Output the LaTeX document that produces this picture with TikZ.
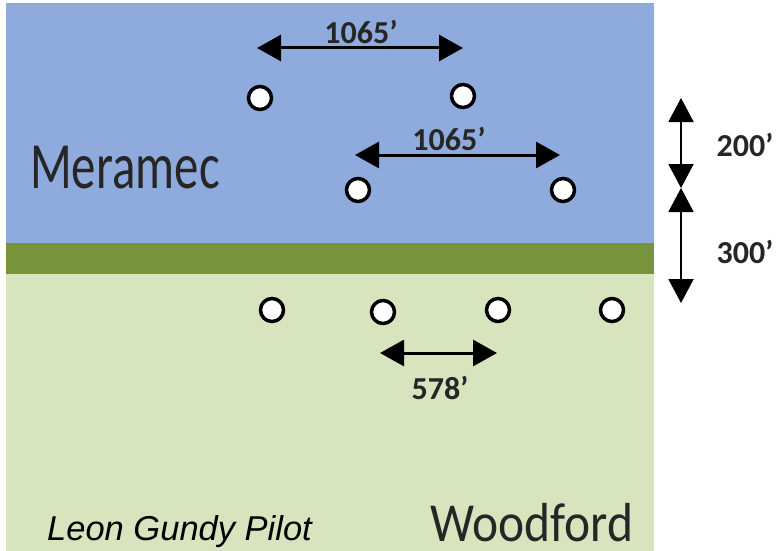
\documentclass[tikz,border=0pt]{standalone}
\usepackage{fontspec}
\setmainfont{Carlito}
\newfontfamily\pilotfont{Liberation Sans}
\usetikzlibrary{arrows.meta}
\definecolor{meramecblue}{HTML}{8FAADC}
\definecolor{shalegreen}{HTML}{77933C}
\definecolor{woodfordgreen}{HTML}{D7E4BD}
\tikzset{
	well/.style={circle, draw=black, fill=white, line width=3.5pt, minimum size=23pt, inner sep=0pt},
	spacing/.style={{Triangle[length=24pt,width=26pt]}-{Triangle[length=24pt,width=26pt]}, line width=3pt},
	thickness/.style={{Triangle[length=24pt,width=25pt]}-{Triangle[length=24pt,width=25pt]}, line width=2pt},
	dimlabel/.style={inner sep=0pt, text=black!85, font=\bfseries\fontsize{32}{34}\selectfont},
	zonelabel/.style={inner sep=0pt, anchor=base west, transform shape}
}

\begin{document}
\begin{tikzpicture}[x=1pt, y=-1pt]
			%%%%% START %%%%%
			
			\useasboundingbox (0, 0) rectangle (776, 551);
			
			\fill[meramecblue] (6, 3) rectangle (654, 243);
			\fill[shalegreen] (6, 243) rectangle (654, 274);
			\fill[woodfordgreen] (6, 274) rectangle (654, 551);
			
			% upper wells
			\node[well] (w1) at (260, 98) {};
			\node[well] (w2) at (463, 96) {};
			\node[well] (w3) at (358, 190) {};
			\node[well] (w4) at (563, 190) {};
			
			% lower wells
			\node[well] (w5) at (272, 310) {};
			\node[well] (w6) at (383, 312) {};
			\node[well] (w7) at (498, 310) {};
			\node[well] (w8) at (612, 310) {};
			
			\coordinate (a1l) at (257, 48);
			\coordinate (a1r) at (463, 48);
			\coordinate (a2l) at (355, 155);
			\coordinate (a2r) at (560, 155);
			\coordinate (a3l) at (380, 353);
			\coordinate (a3r) at (497, 353);
			
			\draw[spacing] (a1l) -- (a1r);
			\draw[spacing] (a2l) -- (a2r);
			\draw[spacing] (a3l) -- (a3r);
			
			\node[dimlabel] (d1) at (361, 32) {1065’};
			\node[dimlabel] (d2) at (449, 139) {1065’};
			\node[dimlabel] (d3) at (440, 388) {578’};
			
			\coordinate (vtop) at (681, 98);
			\coordinate (vmid) at (681, 188);
			\coordinate (vbot) at (681, 303);
			
			\draw[thickness] (vtop) -- (vmid);
			\draw[thickness] (vmid) -- (vbot);
			
			\node[dimlabel] (t1) at (745, 145) {200’};
			\node[dimlabel] (t2) at (745, 252) {300’};
			
			\node[zonelabel, xscale=0.74, text=black!85, font=\fontsize{66}{70}\selectfont] (meramec) at (30, 188) {Meramec};
			\node[zonelabel, xscale=0.9, text=black!85, font=\fontsize{55}{58}\selectfont] (woodford) at (430, 541) {Woodford};
			\node[zonelabel, font=\pilotfont\itshape\fontsize{34.5}{37}\selectfont] (pilot) at (47, 540) {Leon Gundy Pilot};
			
			%%%%% END %%%%%
\end{tikzpicture}
\end{document}
